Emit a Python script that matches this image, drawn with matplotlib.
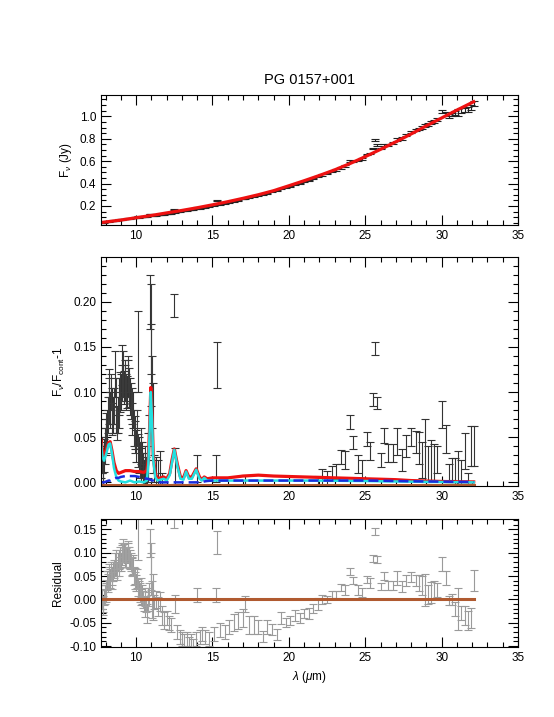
import matplotlib.pyplot as plt
from matplotlib.ticker import MultipleLocator

plt.rcParams['font.family'] = ['Liberation Sans', 'DejaVu Sans']
plt.rcParams['mathtext.fontset'] = 'custom'
plt.rcParams['mathtext.rm'] = 'Liberation Sans'
plt.rcParams['mathtext.it'] = 'Liberation Sans:italic'

# wavelength grid of the spectrum (micron)
lam = [7.70, 7.80, 7.90, 8.00, 8.10, 8.20, 8.30, 8.40, 8.50, 8.60,
       8.70, 8.80, 8.90, 9.00, 9.10, 9.20, 9.30, 9.40, 9.50, 9.60,
       9.70, 9.80, 9.90, 10.00, 10.10, 10.20, 10.30, 10.40, 10.50, 10.60,
       10.70, 10.80, 10.90, 11.00, 11.10, 11.20, 11.30, 11.40, 11.55, 11.70,
       11.85, 12.00, 12.15, 12.30, 12.45, 12.55, 12.70, 12.85, 13.00, 13.15,
       13.30, 13.45, 13.60, 13.75, 13.90, 14.00, 14.15, 14.30,
       14.50, 14.80, 15.10, 15.20, 15.30, 15.50, 15.80, 16.10, 16.40, 16.70,
       17.00, 17.15, 17.40, 17.70, 18.00, 18.30, 18.60, 18.90, 19.20, 19.50,
       19.80, 20.10, 20.40, 20.70, 21.00, 21.30, 21.60, 21.90, 22.20, 22.50,
       22.80, 23.10, 23.40, 23.70, 24.00, 24.20, 24.50, 24.80, 25.10, 25.30,
       25.50, 25.66, 25.80, 26.00, 26.20, 26.50, 26.80, 27.10, 27.40, 27.70,
       28.00, 28.30, 28.50, 28.70, 28.90, 29.10, 29.30, 29.50, 29.70, 30.00,
       30.30, 30.50, 30.70, 30.90, 31.10, 31.30, 31.50, 31.70, 31.90, 32.10]

# observed flux density (Jy)
flux = [0.053, 0.053, 0.055, 0.058, 0.061, 0.064, 0.065, 0.067, 0.069, 0.072,
        0.073, 0.075, 0.077, 0.079, 0.081, 0.083, 0.084, 0.086, 0.088, 0.090,
        0.091, 0.093, 0.094, 0.097, 0.108, 0.099, 0.100, 0.102, 0.103, 0.104,
        0.105, 0.109, 0.128, 0.122, 0.118, 0.115, 0.117, 0.118, 0.121, 0.123,
        0.126, 0.129, 0.132, 0.135, 0.168, 0.143, 0.147, 0.150, 0.155, 0.158,
        0.162, 0.165, 0.168, 0.171, 0.175, 0.185, 0.180, 0.183,
        0.187, 0.195, 0.205, 0.209, 0.250, 0.212, 0.220, 0.230, 0.240, 0.250,
        0.262, 0.270, 0.274, 0.284, 0.294, 0.302, 0.315, 0.326, 0.335, 0.352,
        0.362, 0.376, 0.390, 0.400, 0.415, 0.428, 0.445, 0.460, 0.475, 0.490,
        0.505, 0.522, 0.540, 0.556, 0.600, 0.598, 0.605, 0.620, 0.660, 0.668,
        0.712, 0.785, 0.745, 0.712, 0.742, 0.748, 0.766, 0.792, 0.802, 0.830,
        0.858, 0.876, 0.886, 0.902, 0.918, 0.928, 0.942, 0.952, 0.968, 1.040,
        1.018, 1.002, 1.016, 1.026, 1.036, 1.050, 1.055, 1.058, 1.076, 1.115]

flux_err = [0.003, 0.003, 0.003, 0.003, 0.003, 0.003, 0.003, 0.003, 0.003, 0.003,
            0.003, 0.003, 0.003, 0.003, 0.003, 0.003, 0.003, 0.003, 0.003, 0.003,
            0.003, 0.003, 0.003, 0.003, 0.003, 0.003, 0.003, 0.003, 0.003, 0.003,
            0.003, 0.003, 0.004, 0.004, 0.004, 0.003, 0.003, 0.003, 0.003, 0.003,
            0.003, 0.003, 0.003, 0.003, 0.003, 0.003, 0.003, 0.003, 0.003, 0.003,
            0.003, 0.003, 0.003, 0.003, 0.003, 0.003, 0.003, 0.003,
            0.004, 0.004, 0.004, 0.004, 0.005, 0.004, 0.004, 0.004, 0.004, 0.004,
            0.004, 0.004, 0.004, 0.004, 0.004, 0.004, 0.004, 0.004, 0.004, 0.004,
            0.005, 0.005, 0.005, 0.005, 0.005, 0.005, 0.005, 0.005, 0.006, 0.006,
            0.006, 0.006, 0.006, 0.006, 0.006, 0.006, 0.007, 0.007, 0.007, 0.007,
            0.008, 0.008, 0.008, 0.008, 0.009, 0.009, 0.009, 0.010, 0.010, 0.010,
            0.011, 0.011, 0.012, 0.012, 0.014, 0.013, 0.013, 0.014, 0.014, 0.015,
            0.016, 0.016, 0.017, 0.018, 0.030, 0.020, 0.020, 0.022, 0.022, 0.024]

# F_nu / F_cont - 1
ratio = [0.025, 0.020, 0.030, 0.050, 0.060, 0.110, 0.080, 0.085, 0.075, 0.120,
         0.070, 0.075, 0.095, 0.100, 0.130, 0.105, 0.110, 0.100, 0.115, 0.095,
         0.070, 0.080, 0.055, 0.040, 0.145, 0.030, 0.020, 0.025, 0.010, 0.015,
         0.005, 0.030, 0.200, 0.130, 0.060, 0.015, 0.010, 0.005, 0.015, -0.010,
         -0.020, -0.025, -0.040, -0.030, 0.196, 0.018, -0.050, -0.060, -0.065, -0.075,
         -0.080, -0.085, -0.085, -0.090, -0.080, 0.015, -0.075, -0.080,
         -0.075, -0.080, -0.070, 0.015, 0.130, -0.060, -0.070, -0.060, -0.045, -0.050,
         -0.035, -0.010, -0.050, -0.050, -0.060, -0.075, -0.055, -0.060, -0.070, -0.040,
         -0.050, -0.045, -0.035, -0.040, -0.025, -0.030, -0.015, -0.005, 0.005, 0.005,
         0.010, 0.012, 0.028, 0.025, 0.067, 0.044, 0.020, 0.015, 0.048, 0.035,
         0.092, 0.148, 0.088, 0.025, 0.052, 0.032, 0.032, 0.045, 0.025, 0.040,
         0.050, 0.045, 0.038, 0.025, 0.035, 0.020, 0.025, 0.022, 0.025, 0.075,
         0.048, 0.010, 0.015, 0.012, -0.010, 0.010, 0.035, -0.010, 0.040, 0.040]

ratio_err = [0.020, 0.018, 0.018, 0.020, 0.020, 0.015, 0.020, 0.020, 0.020, 0.025,
             0.015, 0.020, 0.020, 0.020, 0.022, 0.018, 0.020, 0.018, 0.020, 0.020,
             0.018, 0.020, 0.018, 0.018, 0.045, 0.020, 0.018, 0.020, 0.015, 0.018,
             0.020, 0.025, 0.030, 0.045, 0.050, 0.015, 0.018, 0.020, 0.020, 0.020,
             0.018, 0.015, 0.015, 0.015, 0.013, 0.020, 0.015, 0.015, 0.015, 0.015,
             0.015, 0.015, 0.015, 0.015, 0.015, 0.015, 0.015, 0.015,
             0.015, 0.015, 0.015, 0.015, 0.025, 0.015, 0.015, 0.015, 0.018, 0.018,
             0.020, 0.018, 0.020, 0.020, 0.015, 0.012, 0.015, 0.012, 0.012, 0.012,
             0.010, 0.010, 0.012, 0.010, 0.010, 0.012, 0.010, 0.012, 0.010, 0.008,
             0.008, 0.008, 0.008, 0.010, 0.008, 0.007, 0.010, 0.010, 0.008, 0.010,
             0.007, 0.007, 0.007, 0.008, 0.008, 0.010, 0.010, 0.015, 0.012, 0.012,
             0.010, 0.012, 0.018, 0.020, 0.035, 0.020, 0.022, 0.020, 0.015, 0.015,
             0.015, 0.010, 0.012, 0.015, 0.045, 0.015, 0.020, 0.020, 0.022, 0.022]

# residual of the fit
resid = [0.010, -0.010, 0.005, 0.015, 0.040, 0.055, 0.045, 0.050, 0.060, 0.075,
         0.065, 0.080, 0.085, 0.080, 0.095, 0.100, 0.090, 0.095, 0.100, 0.085,
         0.070, 0.075, 0.050, 0.035, 0.130, 0.020, 0.005, 0.010, -0.010, -0.020,
         -0.030, 0.000, 0.120, 0.055, 0.005, -0.005, 0.000, -0.015, -0.005, -0.035,
         -0.045, -0.040, -0.050, -0.055, 0.165, -0.010, -0.070, -0.080, -0.085, -0.090,
         -0.085, -0.095, -0.090, -0.100, -0.085, 0.010, -0.080, -0.075,
         -0.080, -0.085, -0.075, 0.010, 0.122, -0.065, -0.070, -0.060, -0.050, -0.045,
         -0.040, -0.010, -0.055, -0.055, -0.060, -0.080, -0.060, -0.065, -0.075, -0.040,
         -0.050, -0.045, -0.035, -0.040, -0.030, -0.030, -0.020, -0.010, 0.000, 0.000,
         0.010, 0.010, 0.025, 0.020, 0.060, 0.040, 0.020, 0.015, 0.042, 0.035,
         0.088, 0.145, 0.085, 0.028, 0.050, 0.030, 0.030, 0.045, 0.028, 0.040,
         0.048, 0.040, 0.035, 0.030, 0.020, 0.010, 0.015, 0.020, 0.020, 0.075,
         0.045, -0.002, 0.000, -0.020, -0.020, -0.030, -0.035, -0.045, -0.040, 0.040]

# second (overlapping) order of the short-wavelength module
lam_b = [7.75, 7.85, 7.95, 8.05, 8.15, 8.25, 8.35, 8.45, 8.55, 8.65,
         8.75, 8.85, 8.95, 9.05, 9.15, 9.25, 9.35, 9.45, 9.55, 9.65,
         9.75, 9.85, 9.95, 10.05, 10.15, 10.25, 10.35, 10.45, 10.55, 10.65,
         10.75, 10.85, 10.95, 11.05]
ratio_b = [0.030, 0.015, 0.040, 0.055, 0.075, 0.090, 0.100, 0.070, 0.085, 0.095,
           0.065, 0.080, 0.100, 0.110, 0.120, 0.115, 0.100, 0.120, 0.105, 0.090,
           0.085, 0.060, 0.050, 0.060, 0.035, 0.025, 0.040, 0.015, 0.020, 0.010,
           0.020, 0.050, 0.170, 0.100]
ratio_b_err = [0.020, 0.018, 0.020, 0.022, 0.020, 0.025, 0.020, 0.018, 0.020, 0.020,
               0.018, 0.020, 0.022, 0.020, 0.025, 0.020, 0.020, 0.020, 0.022, 0.020,
               0.020, 0.020, 0.018, 0.020, 0.018, 0.020, 0.020, 0.018, 0.020, 0.018,
               0.020, 0.025, 0.050, 0.040]
resid_b = [0.000, -0.015, 0.010, 0.020, 0.035, 0.050, 0.060, 0.040, 0.065, 0.085,
           0.060, 0.070, 0.090, 0.100, 0.105, 0.100, 0.090, 0.105, 0.090, 0.080,
           0.070, 0.050, 0.040, 0.045, 0.025, 0.015, 0.025, 0.000, 0.005, -0.010,
           -0.005, 0.010, 0.070, 0.000]

# continuum + feature model in the top panel (Jy)
mod_lam = [7.7, 8.0, 9.0, 10.0, 11.0, 12.0, 13.0, 14.0, 15.0, 16.0, 17.0, 18.0, 19.0,
           20.0, 21.0, 22.0, 23.0, 24.0, 25.0, 26.0, 27.0, 28.0, 29.0, 30.0, 31.0, 32.1]
mod_flux = [0.052, 0.057, 0.074, 0.095, 0.115, 0.138, 0.160, 0.184, 0.210, 0.238, 0.268,
            0.300, 0.336, 0.380, 0.425, 0.472, 0.522, 0.578, 0.640, 0.705, 0.772, 0.842,
            0.915, 0.985, 1.055, 1.130]

# feature models in the middle panel
feat_lam = [7.70, 7.80, 7.90, 8.05, 8.20, 8.30, 8.42, 8.55, 8.70, 8.85,
            9.00, 9.30, 9.60, 9.90, 10.20, 10.50, 10.70, 10.80, 10.88, 10.96,
            11.04, 11.12, 11.25, 11.40, 11.60, 11.80, 12.00, 12.20, 12.35, 12.50,
            12.70, 12.90, 13.10, 13.27, 13.45, 13.65, 13.93, 14.15, 14.30, 14.46,
            14.65, 15.00, 16.00, 17.00, 18.00, 19.00, 20.00, 21.00, 22.00, 23.00,
            24.00, 25.00, 26.00, 27.00, 28.00, 29.00, 30.00, 31.00, 32.10]
total = [0.047, 0.035, 0.030, 0.036, 0.044, 0.045, 0.035, 0.022, 0.013, 0.010,
         0.011, 0.013, 0.013, 0.012, 0.012, 0.011, 0.013, 0.025, 0.060, 0.105,
         0.075, 0.030, 0.010, 0.004, 0.005, 0.006, 0.004, 0.010, 0.025, 0.037,
         0.020, 0.006, 0.005, 0.013, 0.006, 0.006, 0.015, 0.006, 0.003, 0.006,
         0.004, 0.005, 0.005, 0.007, 0.008, 0.007, 0.0065, 0.006, 0.0055, 0.005,
         0.0045, 0.004, 0.0035, 0.003, 0.002, 0.0015, 0.001, 0.0007, 0.0005]
pah = [0.043, 0.028, 0.024, 0.032, 0.042, 0.043, 0.032, 0.016, 0.006, 0.002,
       0.001, 0.000, 0.002, 0.000, 0.001, 0.000, 0.002, 0.020, 0.055, 0.100,
       0.070, 0.025, 0.006, 0.002, 0.003, 0.004, 0.002, 0.008, 0.022, 0.036,
       0.018, 0.004, 0.003, 0.012, 0.004, 0.004, 0.014, 0.004, 0.002, 0.005,
       0.002, 0.002, 0.002, 0.002, 0.002, 0.002, 0.002, 0.002, 0.002, 0.0018,
       0.0016, 0.0015, 0.0012, 0.001, 0.0008, 0.0006, 0.0004, 0.0002, 0.0]
dust = [0.000, 0.000, 0.000, 0.001, 0.002, 0.002, 0.003, 0.004, 0.005, 0.005,
        0.006, 0.007, 0.007, 0.007, 0.006, 0.005, 0.004, 0.004, 0.003, 0.003,
        0.002, 0.002, 0.001, 0.0005, 0.000, 0.000, 0.000, 0.000, 0.000, 0.000,
        0.000, 0.000, 0.000, 0.000, 0.000, 0.000, 0.000, 0.000, 0.000, 0.001,
        0.0015, 0.002, 0.002, 0.002, 0.002, 0.002, 0.002, 0.002, 0.002, 0.002,
        0.002, 0.002, 0.0018, 0.0015, 0.0012, 0.001, 0.0008, 0.0006, 0.0005]

fig = plt.figure(figsize=(5.54, 7.17), dpi=100)
ax1 = fig.add_axes([0.1823, 0.6862, 0.7527, 0.1813])
ax2 = fig.add_axes([0.1823, 0.3222, 0.7527, 0.3194])
ax3 = fig.add_axes([0.1823, 0.0976, 0.7527, 0.1785])

eb = dict(fmt='none', elinewidth=0.8, capsize=3, capthick=0.8)

ax1.errorbar(lam, flux, yerr=flux_err, ecolor='#222222', **eb)
ax1.plot(mod_lam, mod_flux, color='#ee1111', lw=2.3)
ax1.set_ylim(0.03, 1.19)
ax1.set_ylabel(r'F$_\nu$ (Jy)', fontsize=8.5)
ax1.set_title('PG 0157+001', fontsize=10.5, pad=8)
ax1.yaxis.set_major_locator(MultipleLocator(0.2))
ax1.yaxis.set_minor_locator(MultipleLocator(0.05))
ax1.yaxis.set_major_formatter(plt.FormatStrFormatter('%.1f'))

ax2.errorbar(lam, ratio, yerr=ratio_err, ecolor='#333333', **eb)
ax2.errorbar(lam_b, ratio_b, yerr=ratio_b_err, ecolor='#3a3a3a', **eb)
ax2.plot(feat_lam, total, color='#ee1111', lw=2.3)
ax2.plot(feat_lam, pah, color='#22e0e0', lw=1.8)
ax2.plot(feat_lam, dust, color='#1a2bdd', lw=1.8, ls=(0, (4, 2)))
ax2.plot([lam[0], lam[-1]], [-0.003, -0.003], color='#b05a30', lw=2.2)
ax2.set_ylim(-0.004, 0.2495)
ax2.set_ylabel(r'F$_\nu$/F$_{\rm cont}$-1', fontsize=8.5)
ax2.yaxis.set_major_locator(MultipleLocator(0.05))
ax2.yaxis.set_minor_locator(MultipleLocator(0.01))
ax2.yaxis.set_major_formatter(plt.FormatStrFormatter('%.2f'))

ax3.errorbar(lam, resid, yerr=ratio_err, ecolor='#9a9a9a', **eb)
ax3.errorbar(lam_b, resid_b, yerr=ratio_b_err, ecolor='#a0a0a0', **eb)
ax3.plot([lam[0], lam[-1]], [0, 0], color='#b05a30', lw=2.2)
ax3.set_ylim(-0.102, 0.172)
ax3.set_ylabel('Residual', fontsize=8.5)
ax3.set_xlabel(r'$\lambda$ ($\mu$m)', fontsize=8.5)
ax3.yaxis.set_major_locator(MultipleLocator(0.05))
ax3.yaxis.set_minor_locator(MultipleLocator(0.01))
ax3.yaxis.set_major_formatter(plt.FormatStrFormatter('%.2f'))

for ax in (ax1, ax2, ax3):
    ax.set_xlim(7.7, 35)
    ax.xaxis.set_major_locator(MultipleLocator(5))
    ax.xaxis.set_minor_locator(MultipleLocator(1))
    ax.tick_params(which='both', direction='in', top=True, right=True,
                   labelsize=8.5, width=0.8)
    ax.tick_params(which='major', length=7)
    ax.tick_params(which='minor', length=3.5)
    for s in ax.spines.values():
        s.set_linewidth(0.8)

fig.savefig('out.png', dpi=100)
